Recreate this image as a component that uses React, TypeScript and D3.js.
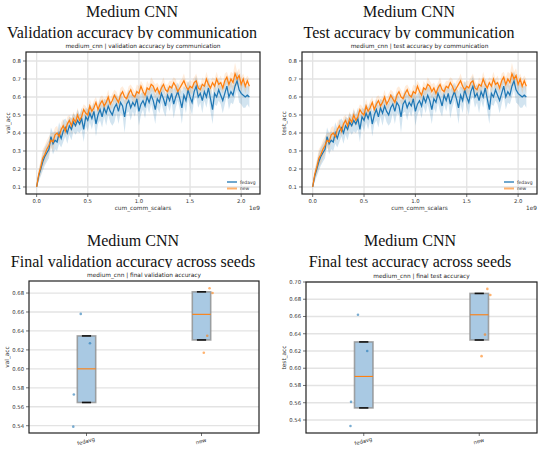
import * as d3 from "d3";

// cumulative communicated scalars, in units of 1e9
const commSteps = d3.range(105).map((i) => i * 0.02);

const fedavgMean = [
  0.10, 0.16, 0.20, 0.24, 0.27, 0.29, 0.31, 0.38, 0.34, 0.36,
  0.35, 0.40, 0.37, 0.41, 0.43, 0.40, 0.44, 0.42, 0.46, 0.44,
  0.47, 0.45, 0.48, 0.42, 0.49, 0.47, 0.51, 0.48, 0.52, 0.45,
  0.50, 0.53, 0.49, 0.54, 0.51, 0.55, 0.52, 0.50, 0.54, 0.56,
  0.52, 0.57, 0.55, 0.49, 0.56, 0.58, 0.54, 0.57, 0.55, 0.59,
  0.52, 0.56, 0.58, 0.55, 0.60, 0.57, 0.61, 0.58, 0.53, 0.59,
  0.57, 0.62, 0.59, 0.55, 0.61, 0.58, 0.62, 0.56, 0.60, 0.63,
  0.59, 0.54, 0.61, 0.58, 0.64, 0.60, 0.57, 0.63, 0.66, 0.60,
  0.62, 0.58, 0.63, 0.60, 0.65, 0.59, 0.53, 0.62, 0.60, 0.64,
  0.61, 0.58, 0.62, 0.66, 0.60, 0.63, 0.61, 0.66, 0.69, 0.64,
  0.62, 0.61, 0.60, 0.61, 0.60,
];
const fedavgStd = [
  0.01, 0.03, 0.04, 0.05, 0.05, 0.05, 0.05, 0.05, 0.06, 0.05,
  0.05, 0.06, 0.05, 0.06, 0.05, 0.06, 0.05, 0.06, 0.05, 0.05,
  0.06, 0.05, 0.06, 0.07, 0.05, 0.06, 0.05, 0.06, 0.05, 0.07,
  0.05, 0.06, 0.06, 0.05, 0.07, 0.05, 0.06, 0.06, 0.08, 0.05,
  0.07, 0.06, 0.05, 0.09, 0.05, 0.06, 0.07, 0.05, 0.06, 0.05,
  0.08, 0.06, 0.05, 0.07, 0.05, 0.06, 0.05, 0.07, 0.08, 0.05,
  0.06, 0.05, 0.07, 0.06, 0.05, 0.06, 0.05, 0.08, 0.06, 0.05,
  0.06, 0.09, 0.05, 0.07, 0.05, 0.06, 0.07, 0.05, 0.06, 0.06,
  0.05, 0.07, 0.05, 0.06, 0.05, 0.07, 0.08, 0.06, 0.05, 0.06,
  0.05, 0.07, 0.06, 0.05, 0.07, 0.06, 0.05, 0.06, 0.05, 0.07,
  0.06, 0.07, 0.06, 0.05, 0.06,
];
const newMean = [
  0.10, 0.17, 0.21, 0.26, 0.28, 0.31, 0.33, 0.36, 0.35, 0.39,
  0.40, 0.38, 0.42, 0.44, 0.41, 0.45, 0.47, 0.44, 0.48, 0.46,
  0.50, 0.47, 0.49, 0.53, 0.51, 0.50, 0.55, 0.52, 0.54, 0.57,
  0.53, 0.56, 0.58, 0.55, 0.57, 0.60, 0.56, 0.58, 0.61, 0.59,
  0.57, 0.61, 0.63, 0.60, 0.59, 0.62, 0.64, 0.61, 0.60, 0.63,
  0.62, 0.66, 0.63, 0.61, 0.65, 0.64, 0.67, 0.66, 0.63, 0.65,
  0.62, 0.65, 0.67, 0.64, 0.63, 0.66, 0.65, 0.68, 0.66, 0.63,
  0.65, 0.67, 0.69, 0.66, 0.64, 0.66, 0.65, 0.68, 0.69, 0.65,
  0.64, 0.67, 0.66, 0.70, 0.67, 0.65, 0.68, 0.66, 0.70, 0.67,
  0.68, 0.65, 0.69, 0.71, 0.67, 0.70, 0.68, 0.73, 0.70, 0.72,
  0.67, 0.70, 0.66, 0.69, 0.66,
];
const newStd = [
  0.01, 0.03, 0.04, 0.05, 0.05, 0.05, 0.05, 0.04, 0.05, 0.04,
  0.04, 0.03, 0.04, 0.04, 0.03, 0.04, 0.03, 0.04, 0.04, 0.03,
  0.04, 0.03, 0.04, 0.03, 0.04, 0.03, 0.04, 0.03, 0.04, 0.03,
  0.03, 0.04, 0.03, 0.04, 0.03, 0.04, 0.03, 0.04, 0.03, 0.04,
  0.03, 0.04, 0.03, 0.04, 0.03, 0.04, 0.03, 0.04, 0.03, 0.04,
  0.04, 0.03, 0.04, 0.03, 0.04, 0.03, 0.04, 0.03, 0.04, 0.03,
  0.04, 0.03, 0.04, 0.03, 0.04, 0.03, 0.04, 0.03, 0.04, 0.03,
  0.04, 0.03, 0.04, 0.03, 0.04, 0.03, 0.04, 0.03, 0.04, 0.04,
  0.03, 0.04, 0.03, 0.04, 0.03, 0.04, 0.03, 0.04, 0.04, 0.03,
  0.04, 0.03, 0.04, 0.03, 0.04, 0.04, 0.05, 0.06, 0.04, 0.04,
  0.04, 0.03, 0.04, 0.03, 0.04,
];

const methods = ["fedavg", "new"];

// final accuracy per seed, with the horizontal jitter used for the dots
const finalValFedavg = [0.658, 0.627, 0.573, 0.539];
const finalValNew = [0.685, 0.68, 0.635, 0.617];
const finalTestFedavg = [0.662, 0.62, 0.561, 0.533];
const finalTestNew = [0.692, 0.685, 0.639, 0.614];
const jitterFedavg = [-0.05, 0.03, -0.11, -0.115];
const jitterNew = [0.07, 0.096, 0.05, 0.02];

const lineTicksY = [0.1, 0.2, 0.3, 0.4, 0.5, 0.6, 0.7, 0.8];
const lineTicksX = [0, 0.5, 1.0, 1.5, 2.0];
const valBoxTicks = [0.54, 0.56, 0.58, 0.6, 0.62, 0.64, 0.66, 0.68];
const testBoxTicks = [0.54, 0.56, 0.58, 0.6, 0.62, 0.64, 0.66, 0.68, 0.7];

const BLUE = "#1f77b4";
const ORANGE = "#ff7f0e";
const GRID = "#e3e3e3";
const SANS = "DejaVu Sans, sans-serif";
const SERIF = "Liberation Serif, Times New Roman, serif";

type Box = { left: number; right: number; top: number; bottom: number };

function Headline({ cx, y1, y2, text, cover }: { cx: number; y1: number; y2: number; text: string; cover: Box }) {
  return (
    <g>
      <text x={cx} y={y1} textAnchor="middle" fontFamily={SERIF} fontSize={16} fill="#111">
        Medium CNN
      </text>
      <text x={cx} y={y2} textAnchor="middle" fontFamily={SERIF} fontSize={16} fill="#111">
        {text}
      </text>
      <rect x={cover.left} y={cover.top} width={cover.right - cover.left} height={cover.bottom - cover.top} fill="#fff" />
    </g>
  );
}

function LinePanel({ box, subtitle, ylabel }: { box: Box; subtitle: string; ylabel: string }) {
  const x = d3.scaleLinear().domain([-0.104, 2.184]).range([box.left, box.right]);
  const y = d3.scaleLinear().domain([0.061, 0.85]).range([box.bottom, box.top]);
  const series = [
    { name: methods[0], mean: fedavgMean, std: fedavgStd, color: BLUE, alpha: 0.2 },
    { name: methods[1], mean: newMean, std: newStd, color: ORANGE, alpha: 0.15 },
  ];
  const line = d3
    .line<number>()
    .x((_, i) => x(commSteps[i]))
    .y((d) => y(d));
  const cx = (box.left + box.right) / 2;
  return (
    <g>
      <text x={cx} y={box.top - 4} textAnchor="middle" fontFamily={SANS} fontSize={5.8} fill="#222">
        {subtitle}
      </text>
      {lineTicksY.map((t) => (
        <line key={"gy" + t} x1={box.left} x2={box.right} y1={y(t)} y2={y(t)} stroke={GRID} strokeWidth={1.3} />
      ))}
      {lineTicksX.map((t) => (
        <line key={"gx" + t} x1={x(t)} x2={x(t)} y1={box.top} y2={box.bottom} stroke={GRID} strokeWidth={1.3} />
      ))}
      {series.map((s) => {
        const area = d3
          .area<number>()
          .x((_, i) => x(commSteps[i]))
          .y0((d, i) => y(d - s.std[i]))
          .y1((d, i) => y(d + s.std[i]));
        return (
          <path key={"a" + s.name} d={area(s.mean) ?? ""} fill={s.color} fillOpacity={s.alpha} stroke="none" />
        );
      })}
      {series.map((s) => (
        <path key={"l" + s.name} d={line(s.mean) ?? ""} fill="none" stroke={s.color} strokeWidth={1.25} />
      ))}
      <rect x={box.left} y={box.top} width={box.right - box.left} height={box.bottom - box.top} fill="none" stroke="#222" strokeWidth={1.2} />
      {lineTicksY.map((t) => (
        <g key={"ty" + t}>
          <line x1={box.left - 3} x2={box.left} y1={y(t)} y2={y(t)} stroke="#333" strokeWidth={0.7} />
          <text x={box.left - 5} y={y(t)} dy="0.35em" textAnchor="end" fontFamily={SANS} fontSize={5.3} fill="#333">
            {d3.format(".1f")(t)}
          </text>
        </g>
      ))}
      {lineTicksX.map((t) => (
        <g key={"tx" + t}>
          <line x1={x(t)} x2={x(t)} y1={box.bottom} y2={box.bottom + 3} stroke="#333" strokeWidth={0.7} />
          <text x={x(t)} y={box.bottom + 9} textAnchor="middle" fontFamily={SANS} fontSize={5.3} fill="#333">
            {d3.format(".1f")(t)}
          </text>
        </g>
      ))}
      <text x={cx} y={box.bottom + 16} textAnchor="middle" fontFamily={SANS} fontSize={5.8} fill="#333">
        cum_comm_scalars
      </text>
      <text x={box.right} y={box.bottom + 16} textAnchor="end" fontFamily={SANS} fontSize={5.8} fill="#333">
        1e9
      </text>
      <text
        transform={`translate(${box.left - 16},${(box.top + box.bottom) / 2}) rotate(-90)`}
        textAnchor="middle"
        fontFamily={SANS}
        fontSize={5.8}
        fill="#333"
      >
        {ylabel}
      </text>
      {series.map((s, i) => (
        <g key={"lg" + s.name} transform={`translate(${box.right - 33},${box.bottom - 12 + i * 6.5})`}>
          <line x1={0} x2={10} y1={0} y2={0} stroke={s.color} strokeWidth={i === 0 ? 1.3 : 2} strokeOpacity={i === 0 ? 1 : 0.6} />
          <text x={13} y={0} dy="0.35em" fontFamily={SANS} fontSize={4.5} fill="#333">
            {s.name}
          </text>
        </g>
      ))}
    </g>
  );
}

function BoxPanel({
  box,
  subtitle,
  ylabel,
  groups,
  domain,
  ticks,
}: {
  box: Box;
  subtitle: string;
  ylabel: string;
  groups: { values: number[]; jitter: number[]; color: string }[];
  domain: [number, number];
  ticks: number[];
}) {
  const x = d3.scaleLinear().domain([0.5, 2.5]).range([box.left, box.right]);
  const y = d3.scaleLinear().domain(domain).range([box.bottom, box.top]);
  const half = 0.08;
  const cx = (box.left + box.right) / 2;
  return (
    <g>
      <text x={cx} y={box.top - 4} textAnchor="middle" fontFamily={SANS} fontSize={5.8} fill="#222">
        {subtitle}
      </text>
      {ticks.map((t) => (
        <line key={"gy" + t} x1={box.left} x2={box.right} y1={y(t)} y2={y(t)} stroke={GRID} strokeWidth={1.3} />
      ))}
      {groups.map((g, i) => {
        const sorted = [...g.values].sort(d3.ascending);
        const q1 = d3.quantile(sorted, 0.25) ?? 0;
        const med = d3.quantile(sorted, 0.5) ?? 0;
        const q3 = d3.quantile(sorted, 0.75) ?? 0;
        const pos = i + 1;
        return (
          <g key={"b" + i}>
            <rect
              x={x(pos - half)}
              y={y(q3)}
              width={x(pos + half) - x(pos - half)}
              height={y(q1) - y(q3)}
              fill="#a9c9e3"
              stroke="#8e8e8e"
              strokeOpacity={0.8}
              strokeWidth={1.6}
            />
            <line x1={x(pos - half)} x2={x(pos + half)} y1={y(med)} y2={y(med)} stroke={ORANGE} strokeWidth={1.1} />
            {[q1, q3].map((q, k) => (
              <line key={k} x1={x(pos - half / 2)} x2={x(pos + half / 2)} y1={y(q)} y2={y(q)} stroke="#111" strokeWidth={1.6} />
            ))}
            {g.values.map((v, k) => (
              <circle key={"p" + k} cx={x(pos + g.jitter[k])} cy={y(v)} r={1.3} fill={g.color} fillOpacity={0.6} />
            ))}
          </g>
        );
      })}
      <rect x={box.left} y={box.top} width={box.right - box.left} height={box.bottom - box.top} fill="none" stroke="#222" strokeWidth={1.2} />
      {ticks.map((t) => (
        <g key={"ty" + t}>
          <line x1={box.left - 3} x2={box.left} y1={y(t)} y2={y(t)} stroke="#333" strokeWidth={0.7} />
          <text x={box.left - 5} y={y(t)} dy="0.35em" textAnchor="end" fontFamily={SANS} fontSize={5.3} fill="#333">
            {d3.format(".2f")(t)}
          </text>
        </g>
      ))}
      {methods.map((m, i) => (
        <g key={"tx" + m}>
          <line x1={x(i + 1)} x2={x(i + 1)} y1={box.bottom} y2={box.bottom + 3} stroke="#333" strokeWidth={0.7} />
          <text
            transform={`translate(${x(i + 1)},${box.bottom + 10}) rotate(-15)`}
            textAnchor="middle"
            fontFamily={SANS}
            fontSize={5.3}
            fill="#333"
          >
            {m}
          </text>
        </g>
      ))}
      <text
        transform={`translate(${box.left - 20},${(box.top + box.bottom) / 2}) rotate(-90)`}
        textAnchor="middle"
        fontFamily={SANS}
        fontSize={5.8}
        fill="#333"
      >
        {ylabel}
      </text>
    </g>
  );
}

export default function App() {
  return (
    <svg width={544} height={452} style={{ position: "absolute", left: 0, top: 0, background: "#fff" }}>
      <rect width={544} height={452} fill="#fff" />
      <Headline cx={132} y1={17} y2={38} text="Validation accuracy by communication" cover={{ left: 0, right: 270, top: 39, bottom: 215 }} />
      <Headline cx={409} y1={17} y2={38} text="Test accuracy by communication" cover={{ left: 274, right: 544, top: 39, bottom: 215 }} />
      <Headline cx={133} y1={246} y2={267} text="Final validation accuracy across seeds" cover={{ left: 0, right: 270, top: 268, bottom: 452 }} />
      <Headline cx={410} y1={246} y2={267} text="Final test accuracy across seeds" cover={{ left: 274, right: 544, top: 268, bottom: 452 }} />
      <LinePanel box={{ left: 26, right: 260, top: 52, bottom: 194 }} subtitle="medium_cnn | validation accuracy by communication" ylabel="val_acc" />
      <LinePanel box={{ left: 302, right: 537, top: 52, bottom: 194 }} subtitle="medium_cnn | test accuracy by communication" ylabel="test_acc" />
      <BoxPanel
        box={{ left: 29, right: 259, top: 281, bottom: 433 }}
        subtitle="medium_cnn | final validation accuracy"
        ylabel="val_acc"
        groups={[
          { values: finalValFedavg, jitter: jitterFedavg, color: BLUE },
          { values: finalValNew, jitter: jitterNew, color: ORANGE },
        ]}
        domain={[0.5323, 0.6927]}
        ticks={valBoxTicks}
      />
      <BoxPanel
        box={{ left: 306, right: 537, top: 282, bottom: 433 }}
        subtitle="medium_cnn | final test accuracy"
        ylabel="test_acc"
        groups={[
          { values: finalTestFedavg, jitter: jitterFedavg, color: BLUE },
          { values: finalTestNew, jitter: jitterNew, color: ORANGE },
        ]}
        domain={[0.5249, 0.7]}
        ticks={testBoxTicks}
      />
    </svg>
  );
}
